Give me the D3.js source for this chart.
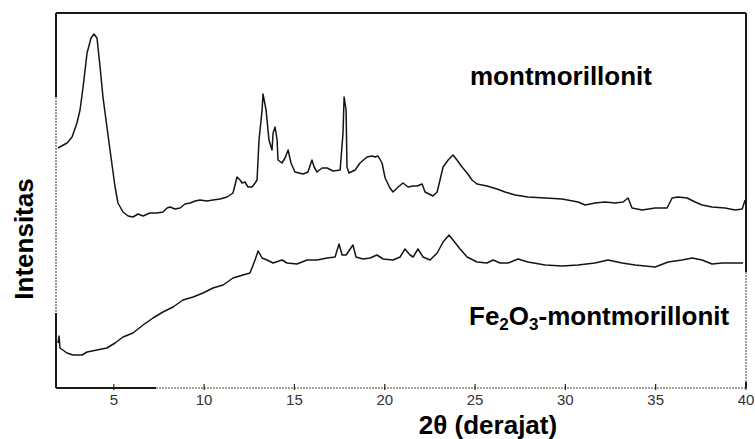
<!DOCTYPE html>
<html>
<head>
<meta charset="utf-8">
<title>XRD montmorillonit</title>
<style>
  body { margin: 0; background: #fff; }
  text { font-family: "Liberation Sans", Arial, sans-serif; }
</style>
</head>
<body>
<svg width="755" height="439"></svg>
<script src="https://cdn.jsdelivr.net/npm/d3@7"></script>
<script>
// 2theta (derajat) dan intensitas (satuan sembarang) - montmorillonit
const thetaMont = [1.91,2.41,2.69,2.96,3.13,3.30,3.52,3.74,3.90,4.07,4.24,4.40,4.62,4.79,5.07,5.23,5.51,5.79,6.06,6.34,6.62,7.00,7.39,7.72,7.95,8.11,8.39,8.67,8.94,9.22,9.50,9.77,10.16,10.49,10.88,11.27,11.60,11.71,11.82,11.99,12.10,12.26,12.43,12.65,12.82,12.93,13.04,13.21,13.26,13.43,13.59,13.76,13.82,13.93,14.04,14.09,14.31,14.48,14.65,14.81,15.03,15.48,15.75,15.97,16.09,16.25,16.53,16.81,17.14,17.53,17.69,17.75,17.86,17.91,18.02,18.36,18.63,19.02,19.30,19.46,19.63,19.85,20.02,20.29,20.46,20.74,21.01,21.29,21.57,21.79,22.07,22.23,22.67,22.90,23.06,23.23,23.51,23.78,24.00,24.28,24.56,24.83,25.11,25.66,26.22,26.66,27.22,27.93,28.88,29.82,30.70,31.09,31.64,32.20,32.75,33.20,33.47,33.69,34.25,34.97,35.63,35.91,36.24,36.74,37.18,37.57,38.12,38.84,39.40,39.79,39.95]
const intMont = [240,245,251,265,278,301,335,350,354,350,321,291,261,238,201,185,176,172,171,174,172,175,175,176,180,181,179,180,184,185,187,188,187,188,189,191,195,203,211,208,205,206,201,201,205,208,248,278,294,278,248,238,255,261,248,228,225,230,238,225,216,214,216,228,221,216,220,220,217,218,255,291,278,221,215,218,225,231,232,231,232,225,210,200,196,201,205,201,202,202,204,196,192,196,208,221,228,233,228,221,215,208,204,202,199,196,193,191,190,189,186,183,185,186,185,186,190,180,178,180,180,190,191,190,186,183,181,180,178,179,188]

// Fe2O3-montmorillonit
const thetaFe = [1.91,1.97,2.02,2.41,2.74,3.24,3.52,4.07,4.62,5.07,5.51,6.06,6.62,7.17,7.72,8.28,8.83,9.39,9.94,10.49,11.05,11.60,12.15,12.54,12.82,12.99,13.21,13.48,13.82,14.31,14.59,15.14,15.70,16.25,16.81,17.25,17.47,17.64,17.86,18.24,18.41,18.80,19.19,19.57,19.91,20.46,20.85,21.12,21.40,21.57,21.84,22.12,22.51,22.90,23.23,23.56,23.78,24.17,24.56,25.11,25.66,26.00,26.38,26.83,27.38,27.93,28.88,29.82,30.70,31.64,32.36,33.14,33.86,34.97,35.69,36.46,37.02,37.57,38.12,38.68,39.23,39.84]
const intFe = [45,52,40,35,33,33,36,38,40,45,51,55,63,70,76,81,88,91,95,100,103,110,113,115,128,137,130,128,125,128,125,124,128,128,130,131,144,133,133,143,131,129,130,133,129,128,131,139,133,131,139,131,128,135,146,153,148,139,131,126,125,128,125,125,129,126,123,122,123,125,128,125,123,121,126,128,130,128,124,125,125,125]

const xTicks = [5, 10, 15, 20, 25, 30, 35, 40]

const svg = d3.select("svg")
const x = d3.scaleLinear().domain([1.8, 40]).range([56, 746])
const y = d3.scaleLinear().domain([0, 375]).range([388, 13])

const [x0, x1] = x.range()
const [yb, yt] = y.range()

// garis-garis bingkai (hasil pindaian: sebagian tegas, sebagian putus-putus)
const frame = svg.append("g")
const seg = (xa, ya, xb, yb2, dotted) => frame.append("line")
  .attr("x1", xa).attr("y1", ya).attr("x2", xb).attr("y2", yb2)
  .attr("stroke", dotted ? "#8c8672" : "#1a1a10")
  .attr("stroke-width", dotted ? 1.6 : 2)
  .attr("stroke-dasharray", dotted ? "2,1" : null)

seg(x0, yt, x1, yt)
seg(x0, yt, x0, 97)
seg(x0, 97, x0, 313, true)
seg(x0, 313, x0, yb)
seg(x1, yt, x1, 272)
seg(x1, 272, x1, 382, true)
seg(x1, 382, x1, yb)
seg(x0, yb, 156, yb)
seg(156, yb, x1, yb, true)

// tick sumbu x
const g = svg.append("g")
g.selectAll("line.tick").data(xTicks).enter().append("line")
  .attr("x1", d => x(d)).attr("x2", d => x(d))
  .attr("y1", yb - 4).attr("y2", yb + 2)
  .attr("stroke", "#222").attr("stroke-width", 1.2)
g.selectAll("text").data(xTicks).enter().append("text")
  .attr("x", d => x(d)).attr("y", 405)
  .attr("text-anchor", "middle")
  .style("font-size", "15px").attr("fill", "#333")
  .text(d => d)

// kurva
const line = d3.line().x(d => x(d[0])).y(d => y(d[1]))
svg.append("path")
  .datum(d3.zip(thetaMont, intMont))
  .attr("fill", "none").attr("stroke", "#151510").attr("stroke-width", 1.5)
  .attr("stroke-linejoin", "round")
  .attr("d", line)
svg.append("path")
  .datum(d3.zip(thetaFe, intFe))
  .attr("fill", "none").attr("stroke", "#151510").attr("stroke-width", 1.5)
  .attr("stroke-linejoin", "round")
  .attr("d", line)

// label
svg.append("text").attr("x", 470).attr("y", 85)
  .style("font-size", "26px").style("font-weight", "bold")
  .text("montmorillonit")

const fe = svg.append("text").attr("x", 469).attr("y", 325)
  .style("font-size", "26px").style("font-weight", "bold")
fe.append("tspan").text("Fe")
fe.append("tspan").attr("dy", 5).style("font-size", "17px").text("2")
fe.append("tspan").attr("dy", -5).text("O")
fe.append("tspan").attr("dy", 5).style("font-size", "17px").text("3")
fe.append("tspan").attr("dy", -5).text("-montmorillonit")

svg.append("text")
  .attr("transform", "translate(33,239) rotate(-90)")
  .attr("text-anchor", "middle")
  .style("font-size", "26px").style("font-weight", "bold")
  .text("Intensitas")

svg.append("text").attr("x", 488).attr("y", 434)
  .attr("text-anchor", "middle")
  .style("font-size", "26px").style("font-weight", "bold")
  .text("2θ (derajat)")
</script>
</body>
</html>
